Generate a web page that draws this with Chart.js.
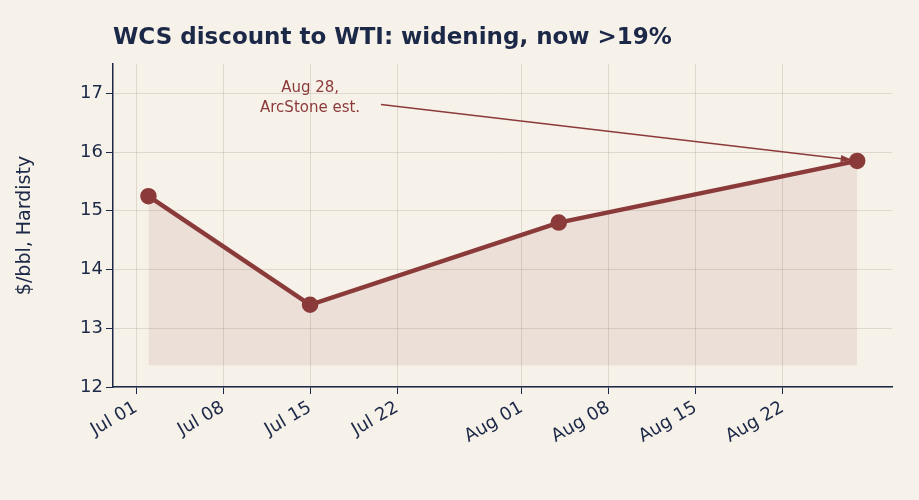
<!DOCTYPE html>
<html><head><meta charset="utf-8">
<script src="https://cdn.jsdelivr.net/npm/chart.js@4"></script>
<style>html,body{margin:0;background:#f7f2e9;}#w{width:919px;height:500px;}</style>
</head><body><div id="w"><canvas id="c"></canvas></div>
<script>
// days since Jul 01
const dayOffsets = [1, 14, 34, 58];
const discount = [15.25, 13.4, 14.8, 15.85];
const tickDays = [0, 7, 14, 21, 31, 38, 45, 52];
const tickLabels = ['Jul 01','Jul 08','Jul 15','Jul 22','Aug 01','Aug 08','Aug 15','Aug 22'];
const yTicks = [12,13,14,15,16,17];
const note = {text:['Aug 28,','ArcStone est.'], tx:14, ty:16.93, ax:19.7, ay:16.81, px:58, py:15.85};
const titleText='WCS discount to WTI: widening, now >19%';
const navy='#1c2848', red='#8b3a3a';
Chart.defaults.font.family='DejaVu Sans';
const annot={id:'annot',afterDatasetsDraw(ch){
  const {ctx,scales:{x,y}}=ch;ctx.save();
  ctx.fillStyle=navy;ctx.font='bold 23px DejaVu Sans';ctx.textAlign='left';ctx.textBaseline='middle';
  ctx.fillText(titleText,ch.chartArea.left,38);
  ctx.fillStyle=red;ctx.font='15px DejaVu Sans';ctx.textAlign='center';
  ctx.fillText(note.text[0],x.getPixelForValue(note.tx),y.getPixelForValue(note.ty)-9);
  ctx.fillText(note.text[1],x.getPixelForValue(note.tx),y.getPixelForValue(note.ty)+11);
  const x1=x.getPixelForValue(note.ax),y1=y.getPixelForValue(note.ay);
  const x2=x.getPixelForValue(note.px)-5,y2=y.getPixelForValue(note.py)-1;
  ctx.strokeStyle=red;ctx.lineWidth=1.5;ctx.beginPath();ctx.moveTo(x1,y1);ctx.lineTo(x2,y2);ctx.stroke();
  const a=Math.atan2(y2-y1,x2-x1);ctx.fillStyle=red;ctx.beginPath();ctx.moveTo(x2,y2);
  ctx.lineTo(x2-12*Math.cos(a-0.3),y2-12*Math.sin(a-0.3));ctx.lineTo(x2-12*Math.cos(a+0.3),y2-12*Math.sin(a+0.3));ctx.closePath();ctx.fill();
  ctx.restore();}};
new Chart(document.getElementById('c'),{type:'line',
 data:{datasets:[{data:dayOffsets.map((d,i)=>({x:d,y:discount[i]})),borderColor:red,borderWidth:4.5,
  backgroundColor:'rgba(139,58,58,0.1)',fill:{value:12.37},pointRadius:6,pointBackgroundColor:red,pointBorderColor:red}]},
 options:{responsive:true,maintainAspectRatio:false,animation:false,
  layout:{padding:{left:10,right:27,top:64,bottom:0}},
  plugins:{legend:{display:false},tooltip:{enabled:false},title:{display:false}},
  scales:{
   x:{type:'linear',min:-1.85,max:60.8,afterFit:s=>{s.height=113;},
    afterBuildTicks:s=>{s.ticks=tickDays.map(v=>({value:v}));},
    ticks:{callback:(v)=>{const i=tickDays.indexOf(v);return i>=0?tickLabels[i]:'';},color:navy,font:{size:18},maxRotation:30,minRotation:30,autoSkip:false},
    grid:{color:'rgba(120,100,70,0.18)',drawTicks:true,tickColor:navy,tickLength:7},border:{color:navy,width:1.5}},
   y:{min:12,max:17.5,afterFit:s=>{s.width=103;},afterBuildTicks:s=>{s.ticks=yTicks.map(v=>({value:v}));},
    ticks:{color:navy,font:{size:18}},
    title:{display:true,text:'$/bbl, Hardisty',color:navy,font:{size:19}},
    grid:{color:'rgba(120,100,70,0.18)',tickColor:navy,tickLength:7},border:{color:navy,width:1.5}}}},
 plugins:[annot]});
</script></body></html>
